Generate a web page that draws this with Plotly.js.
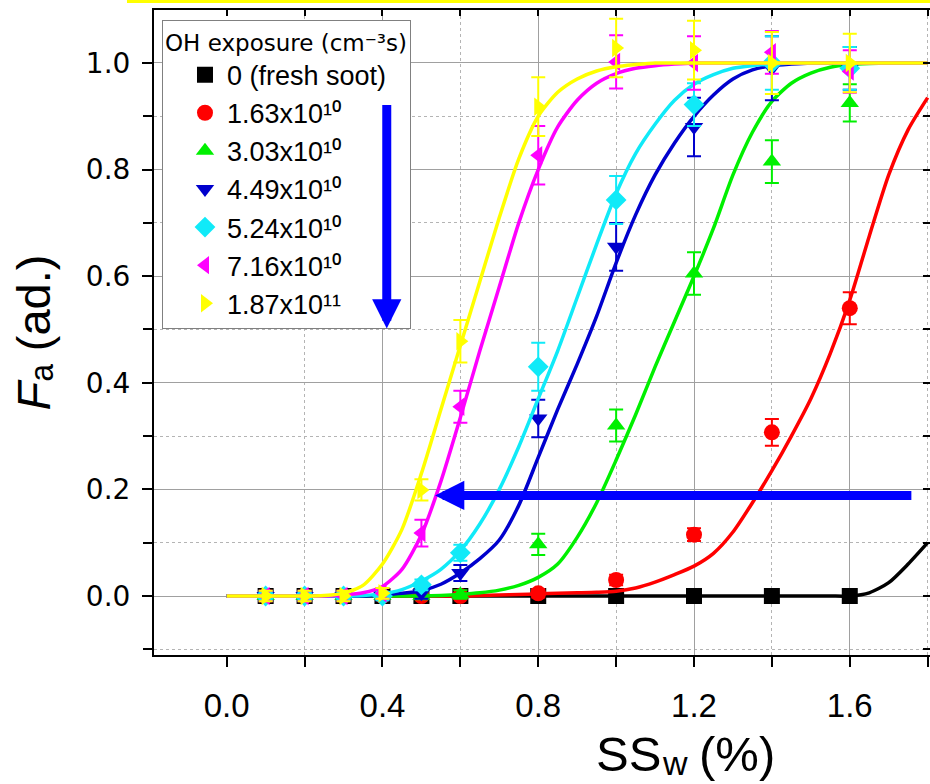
<!DOCTYPE html>
<html>
<head>
<meta charset="utf-8">
<script src="https://cdn.plot.ly/plotly-3.0.1.min.js"></script>
<style>
html, body { margin: 0; padding: 0; background: #ffffff; }
#chart { width: 930px; height: 784px; }
</style>
</head>
<body>
<div id="chart"></div>
<script>
// ---------------- data ----------------
const seriesNames = ['0 (fresh soot)', '1.63x10¹⁰', '3.03x10¹⁰', '4.49x10¹⁰',
                     '5.24x10¹⁰', '7.16x10¹⁰', '1.87x10¹¹'];
const legendTitle = 'OH exposure (cm⁻³s)';
const yTitle = '<i>F</i>ₐ (ad.)';
const xTitleMain = 'SS';
const xTitleSub = 'w';
const xTitleUnit = '(%)';

const ssw = [0.1, 0.2, 0.3, 0.4, 0.5, 0.6, 0.8, 1.0, 1.2, 1.4, 1.6];

const faFresh   = [0, 0, 0, 0, 0, 0, 0, 0, 0, 0, 0];
const errFresh  = [0.004, 0.004, 0.004, 0.004, 0.004, 0.004, 0.004, 0.004, 0.004, 0.004, 0.004];
const faOH1     = [0, 0, 0, 0, 0, 0, 0.005, 0.03, 0.115, 0.307, 0.54];
const errOH1    = [0.005, 0.005, 0.005, 0.005, 0.005, 0.005, 0.008, 0.01, 0.012, 0.025, 0.03];
const faOH2     = [0, 0, 0, 0, 0, 0.003, 0.097, 0.32, 0.605, 0.815, 0.925];
const errOH2    = [0.006, 0.006, 0.006, 0.006, 0.006, 0.008, 0.02, 0.03, 0.04, 0.04, 0.035];
const faOH3     = [0, 0, 0, 0, 0.005, 0.043, 0.333, 0.655, 0.88, 0.99, 0.99];
const errOH3    = [0.008, 0.008, 0.008, 0.008, 0.01, 0.015, 0.035, 0.045, 0.055, 0.06, 0.04];
const faOH4     = [0, 0, 0, 0, 0.021, 0.081, 0.43, 0.743, 0.922, 1.0, 0.99];
const errOH4    = [0.008, 0.008, 0.008, 0.008, 0.01, 0.015, 0.045, 0.045, 0.04, 0.05, 0.04];
const faOH5     = [0, 0, 0, 0.005, 0.118, 0.355, 0.827, 1.002, 1.0, 1.02, 0.984];
const errOH5    = [0.01, 0.01, 0.01, 0.01, 0.025, 0.03, 0.055, 0.05, 0.05, 0.04, 0.04];
const faOH6     = [0, 0, 0, 0.005, 0.199, 0.478, 0.918, 1.028, 1.024, 1.0, 1.0];
const errOH6    = [0.01, 0.01, 0.01, 0.01, 0.02, 0.04, 0.055, 0.055, 0.055, 0.058, 0.055];

// fitted curves
const fitX = [0, 0.1, 0.2, 0.25, 0.3, 0.35, 0.4, 0.45, 0.5, 0.55, 0.6, 0.65, 0.7, 0.75, 0.8, 0.85, 0.9, 0.95,
              1.0, 1.05, 1.1, 1.15, 1.2, 1.25, 1.3, 1.35, 1.4, 1.45, 1.5, 1.55, 1.6, 1.65, 1.7, 1.75, 1.8];
const fitFresh = [0, 0, 0, 0, 0, 0, 0, 0, 0, 0, 0, 0, 0, 0, 0, 0, 0, 0,
                  0, 0, 0, 0, 0, 0, 0, 0, 0, 0, 0, 0, 0, 0.006, 0.025, 0.06, 0.1];
const fitOH1 = [0, 0, 0, 0, 0, 0, 0, 0, 0, 0, 0, 0.001, 0.002, 0.003, 0.004, 0.005, 0.006, 0.007,
                0.009, 0.015, 0.026, 0.04, 0.056, 0.08, 0.12, 0.175, 0.235, 0.3, 0.37, 0.455, 0.555, 0.675, 0.79, 0.875, 0.935];
const fitOH2 = [0, 0, 0, 0, 0, 0, 0, 0, 0, 0.001, 0.003, 0.006, 0.011, 0.02, 0.035, 0.06, 0.11, 0.175,
                0.255, 0.34, 0.43, 0.515, 0.6, 0.69, 0.79, 0.87, 0.928, 0.962, 0.981, 0.992, 0.997, 0.999, 1, 1, 1];
const fitOH3 = [0, 0, 0, 0, 0, 0, 0.002, 0.005, 0.01, 0.022, 0.043, 0.07, 0.105, 0.17, 0.26, 0.35, 0.435, 0.525,
                0.625, 0.715, 0.79, 0.85, 0.9, 0.94, 0.97, 0.987, 0.995, 0.998, 1, 1, 1, 1, 1, 1, 1];
const fitOH4 = [0, 0, 0, 0, 0, 0.001, 0.004, 0.012, 0.028, 0.05, 0.085, 0.135, 0.2, 0.28, 0.37, 0.46, 0.56, 0.66,
                0.755, 0.83, 0.885, 0.93, 0.96, 0.978, 0.99, 0.995, 0.998, 1, 1, 1, 1, 1, 1, 1, 1];
const fitOH5 = [0, 0, 0, 0, 0.002, 0.006, 0.018, 0.05, 0.115, 0.215, 0.335, 0.46, 0.58, 0.7, 0.8, 0.88, 0.93, 0.962,
                0.98, 0.99, 0.995, 0.998, 1, 1, 1, 1, 1, 1, 1, 1, 1, 1, 1, 1, 1];
const fitOH6 = [0, 0, 0, 0.001, 0.005, 0.02, 0.06, 0.125, 0.23, 0.35, 0.47, 0.59, 0.71, 0.82, 0.9, 0.945, 0.97, 0.985,
                0.993, 0.997, 1, 1, 1, 1, 1, 1, 1, 1, 1, 1, 1, 1, 1, 1, 1];

// ---------------- styles ----------------
const colors  = ['#000000', '#ff0000', '#00f000', '#0000cd', '#10eaf8', '#ff00ff', '#ffff00'];
const symbols = ['square', 'circle', 'triangle-up', 'triangle-down', 'diamond', 'triangle-left', 'triangle-right'];

const faAll  = [faFresh, faOH1, faOH2, faOH3, faOH4, faOH5, faOH6];
const errAll = [errFresh, errOH1, errOH2, errOH3, errOH4, errOH5, errOH6];
const fitAll = [fitFresh, fitOH1, fitOH2, fitOH3, fitOH4, fitOH5, fitOH6];

const traces = [];
for (let i = 0; i < seriesNames.length; i++) {
  traces.push({
    type: 'scatter', mode: 'markers', name: seriesNames[i],
    x: ssw, y: faAll[i],
    marker: { symbol: symbols[i], size: 16, color: colors[i], line: { width: 0 } },
    error_y: { type: 'data', array: errAll[i], visible: true, color: colors[i], thickness: 2, width: 7 },
    showlegend: true, hoverinfo: 'x+y'
  });
  traces.push({
    type: 'scatter', mode: 'lines', x: fitX, y: fitAll[i],
    line: { color: colors[i], width: 3.5, shape: 'spline', smoothing: 0.7 },
    showlegend: false, hoverinfo: 'skip'
  });
}
// empty trace on the mirror axes so their inward ticks are drawn
traces.push({ type: 'scatter', mode: 'markers', x: [], y: [], xaxis: 'x2', yaxis: 'y2', showlegend: false, hoverinfo: 'skip' });

const xRange = [-0.1867, 1.806];
const yRange = [-0.1107, 1.0994];
const fam = 'Liberation Sans, Arial, sans-serif';

const layout = {
  width: 930, height: 784,
  margin: { l: 154, r: 0, t: 10, b: 129, pad: 0 },
  paper_bgcolor: '#ffffff', plot_bgcolor: '#ffffff',
  font: { family: fam, color: '#000000' },
  showlegend: true,
  xaxis: {
    range: xRange, tick0: 0, dtick: 0.4, tickformat: '.1f',
    ticks: 'outside', ticklen: 10, tickwidth: 2, tickcolor: '#000',
    tickfont: { family: fam, size: 33, color: '#000' }, ticklabelstandoff: 10,
    showline: true, linewidth: 2, linecolor: '#000', mirror: false,
    showgrid: true, gridcolor: '#a0a0a0', gridwidth: 1,
    zeroline: true, zerolinecolor: 'rgba(0,0,0,0)',
    minor: { tick0: 0, dtick: 0.2, ticks: 'outside', ticklen: 10, tickwidth: 2, tickcolor: '#000',
             showgrid: true, griddash: 'dot', gridcolor: '#b4b4b4', gridwidth: 1 }
  },
  yaxis: {
    range: yRange, tick0: 0, dtick: 0.2, tickformat: '.1f',
    ticks: 'outside', ticklen: 10, tickwidth: 2, tickcolor: '#000',
    tickfont: { family: 'DejaVu Sans, sans-serif', size: 28, color: '#000' }, ticklabelstandoff: 6,
    showline: true, linewidth: 2, linecolor: '#000', mirror: false,
    showgrid: true, gridcolor: '#a0a0a0', gridwidth: 1, zeroline: false,
    minor: { tick0: 0, dtick: 0.1, ticks: 'outside', ticklen: 9, tickwidth: 2, tickcolor: '#000',
             showgrid: true, griddash: 'dot', gridcolor: '#b4b4b4', gridwidth: 1 },
    title: { text: yTitle, font: { family: fam, size: 47, color: '#000' }, standoff: 20 }
  },
  xaxis2: {
    overlaying: 'x', side: 'top', anchor: 'y', range: xRange, tick0: 0, dtick: 0.2,
    ticks: 'inside', ticklen: 6, tickwidth: 2, tickcolor: '#000', showticklabels: false,
    showline: true, linewidth: 2, linecolor: '#000', showgrid: false, zeroline: false
  },
  yaxis2: {
    overlaying: 'y', side: 'right', anchor: 'x', range: yRange, tick0: 0, dtick: 0.1,
    ticks: 'inside', ticklen: 7, tickwidth: 2, tickcolor: '#000', showticklabels: false,
    showline: false, showgrid: false, zeroline: false
  },
  legend: {
    x: 0.0103, y: 0.985, xanchor: 'left', yanchor: 'top',
    bgcolor: '#ffffff', bordercolor: '#808080', borderwidth: 1,
    font: { family: fam, size: 27, color: '#000' },
    title: { text: legendTitle, font: { family: 'DejaVu Sans, sans-serif', size: 23, color: '#000' } },
    itemwidth: 34, indentation: 20, tracegroupgap: 0, traceorder: 'normal'
  },
  annotations: [
    // x-axis title, drawn in three pieces: SS, subscript w, (%)
    { xref: 'paper', yref: 'paper', x: 0.567, y: -0.153, xanchor: 'left', yanchor: 'middle',
      text: xTitleMain, showarrow: false, font: { family: fam, size: 49, color: '#000' } },
    { xref: 'paper', yref: 'paper', x: 0.6525, y: -0.2, xanchor: 'left', yanchor: 'bottom',
      text: xTitleSub, showarrow: false, font: { family: fam, size: 34, color: '#000' } },
    { xref: 'paper', yref: 'paper', x: 0.700, y: -0.153, xanchor: 'left', yanchor: 'middle',
      text: xTitleUnit, showarrow: false, font: { family: fam, size: 49, color: '#000' } },
    // blue arrows
    { xref: 'x', yref: 'y', axref: 'x', ayref: 'y', x: 0.535, y: 0.1886, ax: 1.762, ay: 0.1886, text: '',
      showarrow: true, arrowhead: 2, arrowsize: 0.65, arrowwidth: 9, arrowcolor: '#0000ff', standoff: 0 },
    { xref: 'x', yref: 'y', axref: 'x', ayref: 'y', x: 0.411, y: 0.502, ax: 0.411, ay: 0.924, text: '',
      showarrow: true, arrowhead: 2, arrowsize: 0.65, arrowwidth: 9, arrowcolor: '#0000ff', standoff: 0 }
  ],
  shapes: [
    { type: 'line', xref: 'paper', yref: 'paper', x0: -0.0348, x1: 1, y0: 1.0132, y1: 1.0132,
      line: { color: '#ffff00', width: 3 } }
  ]
};

Plotly.newPlot('chart', traces, layout, { displayModeBar: false, staticPlot: true });
</script>
</body>
</html>
